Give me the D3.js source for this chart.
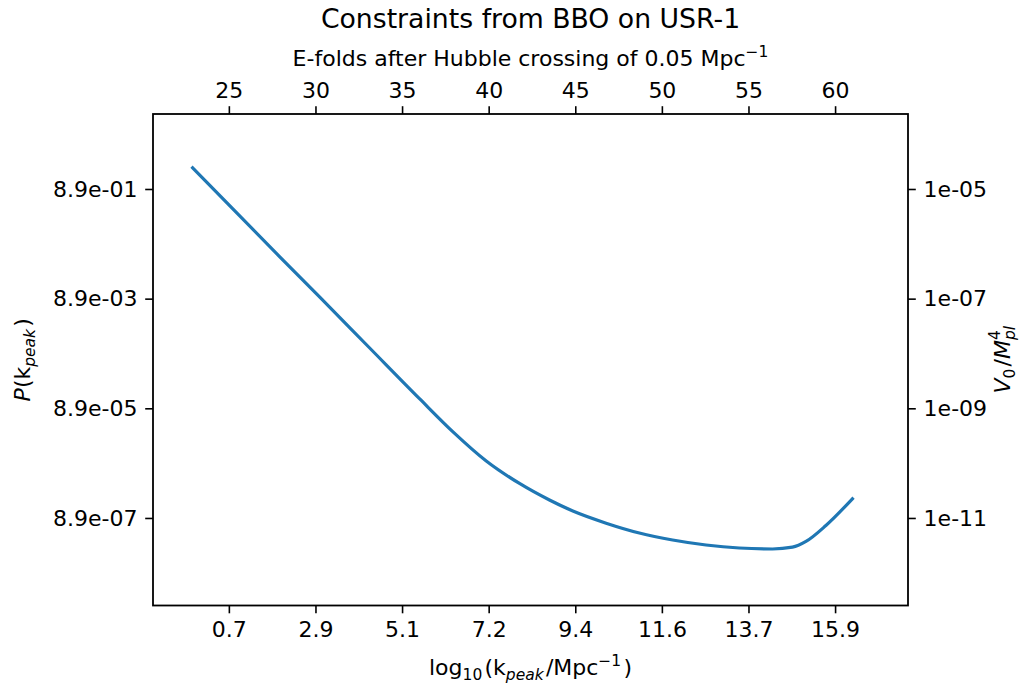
<!DOCTYPE html>
<html>
<head>
<meta charset="utf-8">
<script src="https://cdn.jsdelivr.net/npm/d3@7"></script>
<style>
  body { margin: 0; background: #fff; }
  svg text { font-family: "DejaVu Sans", sans-serif; fill: #000; }
</style>
</head>
<body>
<div id="chart"><svg></svg></div>
<script>
// e-folds after Hubble crossing (top axis) and P(k_peak)
const efolds = [22.91, 25.06, 27.94, 30.25, 33.13, 36.02, 37.94, 39.86, 41.78, 43.51, 44.86,
                46.78, 48.70, 50.62, 52.55, 54.47, 56.39, 57.54, 58.32, 59.47, 61.00];
const power  = [2.17, 0.436, 0.0516, 9.46e-3, 1.12e-3, 1.32e-4, 3.31e-5, 9.74e-6, 3.79e-6, 1.89e-6, 1.19e-6,
                7.15e-7, 4.73e-7, 3.53e-7, 2.86e-7, 2.52e-7, 2.42e-7, 2.61e-7, 3.32e-7, 6.49e-7, 1.99e-6];

const topTicks = [25, 30, 35, 40, 45, 50, 55, 60];
const bottomTickLabels = ['0.7', '2.9', '5.1', '7.2', '9.4', '11.6', '13.7', '15.9'];
const leftTicks = [8.9e-1, 8.9e-3, 8.9e-5, 8.9e-7];
const leftTickLabels = ['8.9e-01', '8.9e-03', '8.9e-05', '8.9e-07'];
const rightTicks = [1e-5, 1e-7, 1e-9, 1e-11];
const rightTickLabels = ['1e-05', '1e-07', '1e-09', '1e-11'];
const vRatio = 1e-5 / 8.9e-1;   // V0/Mpl^4 per unit P

(function(){
  const W = 1030, H = 687;
  const margin = {top: 114, right: 122, bottom: 81.5, left: 153};
  const width = W - margin.left - margin.right;
  const height = H - margin.top - margin.bottom;
  const svg = d3.select('#chart svg').attr('width', W).attr('height', H);
  const g = svg.append('g').attr('transform', `translate(${margin.left},${margin.top})`);

  const x = d3.scaleLinear().domain([20.62, 64.21]).range([0, width]);
  const y = d3.scaleLog().domain([Math.pow(10, -7.647), Math.pow(10, 1.317)]).range([height, 0]);
  const y2 = d3.scaleLog().domain(y.domain().map(d => d * vRatio)).range([height, 0]);

  const tickLen = 7.8, pad = 7.8, fs = 22;

  function styleAxis(sel) {
    sel.select('.domain').remove();
    sel.selectAll('.tick line').attr('stroke', '#000').attr('stroke-width', 1.6);
    sel.selectAll('.tick text').style('font-size', fs + 'px');
  }

  g.append('g').attr('transform', `translate(0,${height})`)
    .call(d3.axisBottom(x).tickValues(topTicks).tickFormat((d, i) => bottomTickLabels[i])
      .tickSize(tickLen).tickPadding(pad))
    .call(styleAxis);

  g.append('g')
    .call(d3.axisTop(x).tickValues(topTicks).tickFormat(d3.format('d'))
      .tickSize(tickLen).tickPadding(pad))
    .call(styleAxis);

  g.append('g')
    .call(d3.axisLeft(y).tickValues(leftTicks).tickFormat((d, i) => leftTickLabels[i])
      .tickSize(tickLen).tickPadding(pad))
    .call(styleAxis);

  g.append('g').attr('transform', `translate(${width},0)`)
    .call(d3.axisRight(y2).tickValues(rightTicks).tickFormat((d, i) => rightTickLabels[i])
      .tickSize(tickLen).tickPadding(pad))
    .call(styleAxis);

  const data = efolds.map((n, i) => ({n: n, p: power[i]}));
  const line = d3.line().x(d => x(d.n)).y(d => y(d.p)).curve(d3.curveMonotoneX);
  g.append('path').datum(data)
    .attr('fill', 'none').attr('stroke', '#1f77b4').attr('stroke-width', 3.2)
    .attr('stroke-linecap', 'square').attr('d', line);

  g.append('rect').attr('width', width).attr('height', height)
    .attr('fill', 'none').attr('stroke', '#000').attr('stroke-width', 1.8);

  // --- labels ---
  const sub = (t, txt, italic) => {
    t.append('tspan').attr('dy', 5).style('font-size', '15.5px')
      .style('font-style', italic ? 'italic' : 'normal').text(txt);
    t.append('tspan').attr('dy', -5).text('\u200a');
  };
  const sup = (t, txt) => {
    t.append('tspan').attr('dy', -9).style('font-size', '15.5px').text(txt);
    t.append('tspan').attr('dy', 9).text('\u200a');
  };

  svg.append('text').attr('x', margin.left + width / 2).attr('y', 28)
    .attr('text-anchor', 'middle').style('font-size', '26.7px')
    .text('Constraints from BBO on USR-1');

  const top = svg.append('text').attr('x', margin.left + width / 2).attr('y', 66)
    .attr('text-anchor', 'middle').style('font-size', fs + 'px');
  top.append('tspan').text('E-folds after Hubble crossing of 0.05 Mpc');
  top.append('tspan').attr('dy', -9).style('font-size', '15.5px').text('\u22121');

  const bot = svg.append('text').attr('x', margin.left + width / 2).attr('y', 675)
    .attr('text-anchor', 'middle').style('font-size', fs + 'px');
  bot.append('tspan').text('log');
  sub(bot, '10', false);
  bot.append('tspan').text('(k');
  sub(bot, 'peak', true);
  bot.append('tspan').text('/Mpc');
  sup(bot, '\u22121');
  bot.append('tspan').text(')');

  const left = svg.append('text')
    .attr('transform', `translate(30,${margin.top + height / 2}) rotate(-90)`)
    .attr('text-anchor', 'middle').style('font-size', fs + 'px');
  left.append('tspan').style('font-style', 'italic').text('P');
  left.append('tspan').text('(k');
  sub(left, 'peak', true);
  left.append('tspan').text(')');

  const right = svg.append('text')
    .attr('transform', `translate(1010,${margin.top + height / 2}) rotate(-90)`)
    .attr('text-anchor', 'middle').style('font-size', fs + 'px');
  right.append('tspan').style('font-style', 'italic').text('V');
  sub(right, '0', false);
  right.append('tspan').text('/');
  right.append('tspan').style('font-style', 'italic').text('M');
  right.append('tspan').attr('dy', 5).style('font-size', '15.5px').style('font-style', 'italic').text('pl');
  right.append('tspan').attr('dx', -14).attr('dy', -15).style('font-size', '15.5px').text('4');
})();
</script>
</body>
</html>
